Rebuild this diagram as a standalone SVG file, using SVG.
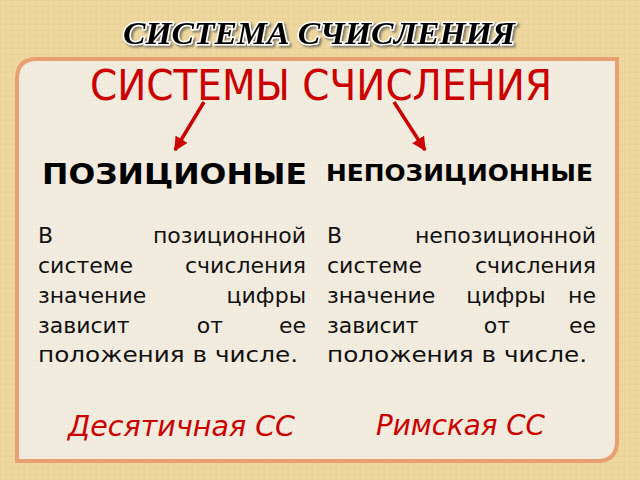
<svg xmlns="http://www.w3.org/2000/svg" width="640" height="480" viewBox="0 0 640 480">
<defs>
<pattern id="tex" width="6" height="6" patternUnits="userSpaceOnUse">
<rect width="6" height="6" fill="#eed8a0"/>
<path d="M0 0.5H6M0.5 0V6" stroke="#e3c78a" stroke-width="1" opacity="0.4"/>
</pattern>
<pattern id="tex2" width="4" height="4" patternUnits="userSpaceOnUse">
<rect width="4" height="4" fill="#f3ede1"/>
<path d="M0 0.5H4M0.5 0V4" stroke="#e9e0ce" stroke-width="0.6" opacity="0.5"/>
</pattern>
<filter id="sh" x="-5%" y="-30%" width="110%" height="160%">
<feDropShadow dx="2" dy="2" stdDeviation="1.2" flood-color="#555555" flood-opacity="0.7"/>
</filter>
<marker id="ah" viewBox="0 0 10 10" refX="9" refY="5" markerWidth="4" markerHeight="4" orient="auto" markerUnits="strokeWidth">
<path d="M0 0L10 5L0 10z" fill="#cc0000"/>
</marker>
</defs>
<style>
.title{font-family:"Liberation Serif",serif;font-weight:bold;font-style:italic;font-size:32px}
.red{font-family:"DejaVu Sans",sans-serif;fill:#cc0000}
.hd{font-family:"DejaVu Sans",sans-serif;font-weight:bold;fill:#000}
.body{font-family:"DejaVu Sans",sans-serif;font-size:22px;fill:#111}
.arr{stroke:#cc0000;stroke-width:3.5;fill:none;marker-end:url(#ah)}
</style>
<rect width="640" height="480" fill="url(#tex)"/>
<g id="title">
<text class="title" x="123" y="44" textLength="392" lengthAdjust="spacingAndGlyphs" fill="#000" stroke="#ffffff" stroke-width="3" paint-order="stroke" filter="url(#sh)">СИСТЕМА СЧИСЛЕНИЯ</text>
</g>
<g id="panel">
<path d="M37 59H617V441Q617 461 597 461H17V79Q17 59 37 59Z" fill="url(#tex2)" stroke="#e8a070" stroke-width="4"/>
</g>
<g id="root">
<text class="red" x="90" y="100" font-size="42" textLength="462" lengthAdjust="spacingAndGlyphs">СИСТЕМЫ СЧИСЛЕНИЯ</text>
</g>
<g id="connectors">
<line class="arr" x1="204" y1="102" x2="175" y2="150"/>
<line class="arr" x1="394" y1="102" x2="425" y2="150"/>
</g>
<g id="positional">
<text class="hd" x="42" y="184" font-size="29" textLength="265" lengthAdjust="spacingAndGlyphs">ПОЗИЦИОНЫЕ</text>
<g class="body">
<text x="38" y="243">В</text><text x="306" y="243" text-anchor="end">позиционной</text>
<text x="38" y="273">системе</text><text x="306" y="273" text-anchor="end">счисления</text>
<text x="38" y="303">значение</text><text x="306" y="303" text-anchor="end">цифры</text>
<text x="38" y="333">зависит</text><text x="210" y="333" text-anchor="middle">от</text><text x="306" y="333" text-anchor="end">ее</text>
<text x="38" y="362" textLength="260" lengthAdjust="spacingAndGlyphs">положения в числе.</text>
</g>
<text class="red" x="68" y="436" font-size="28" font-style="italic" textLength="227" lengthAdjust="spacingAndGlyphs">Десятичная СС</text>
</g>
<g id="nonpositional">
<text class="hd" x="326" y="181" font-size="23" textLength="267" lengthAdjust="spacingAndGlyphs">НЕПОЗИЦИОННЫЕ</text>
<g class="body">
<text x="327" y="243">В</text><text x="596" y="243" text-anchor="end">непозиционной</text>
<text x="327" y="273">системе</text><text x="596" y="273" text-anchor="end">счисления</text>
<text x="327" y="303">значение</text><text x="506" y="303" text-anchor="middle">цифры</text><text x="596" y="303" text-anchor="end">не</text>
<text x="327" y="333">зависит</text><text x="497" y="333" text-anchor="middle">от</text><text x="596" y="333" text-anchor="end">ее</text>
<text x="327" y="362" textLength="260" lengthAdjust="spacingAndGlyphs">положения в числе.</text>
</g>
<text class="red" x="376" y="435" font-size="28" font-style="italic" textLength="169" lengthAdjust="spacingAndGlyphs">Римская СС</text>
</g>
</svg>
